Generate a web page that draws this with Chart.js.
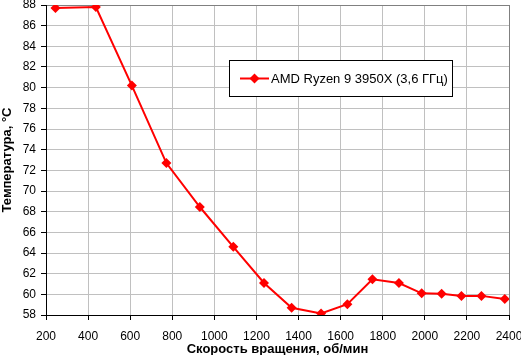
<!DOCTYPE html>
<html><head><meta charset="utf-8">
<script src="https://cdn.jsdelivr.net/npm/chart.js@4"></script>
<style>html,body{margin:0;padding:0;background:#fff}#c{display:block}</style>
</head><body>
<div style="width:521px;height:355px"><canvas id="c" width="521" height="355"></canvas></div>
<script>
const seriesName = 'AMD Ryzen 9 3950X (3,6 ГГц)';
const rpm = [245, 437, 608, 772, 931, 1090, 1236, 1367, 1507, 1632, 1751, 1877, 1985, 2080, 2174, 2269, 2380];
const temp = [87.7, 87.8, 80.2, 72.7, 68.45, 64.6, 61.1, 58.7, 58.15, 59.05, 61.45, 61.1, 60.1, 60.05, 59.85, 59.85, 59.55];
const xTitle = 'Скорость вращения, об/мин';
const yTitle = 'Температура, °C';
const xMin = 200, xMax = 2400, xStep = 200;
const yMin = 58, yMax = 88, yStep = 2;

const FONT = '"Liberation Sans", Arial, sans-serif';

const legendPlugin = {
  id: 'boxLegend',
  afterDraw(chart) {
    const ctx = chart.ctx;
    ctx.save();
    const x = 229.5, y = 60.5, w = 223, h = 36;
    ctx.fillStyle = '#fff';
    ctx.fillRect(x, y, w, h);
    ctx.strokeStyle = '#000';
    ctx.lineWidth = 1;
    ctx.strokeRect(x, y, w, h);
    const cy = y + h / 2;
    ctx.strokeStyle = '#ff0000';
    ctx.lineWidth = 2;
    ctx.beginPath(); ctx.moveTo(240, cy); ctx.lineTo(269, cy); ctx.stroke();
    ctx.fillStyle = '#ff0000';
    const mx = 254.5, r = 5;
    ctx.beginPath(); ctx.moveTo(mx, cy - r); ctx.lineTo(mx + r, cy); ctx.lineTo(mx, cy + r); ctx.lineTo(mx - r, cy); ctx.closePath(); ctx.fill();
    ctx.fillStyle = '#000';
    ctx.font = '13px ' + FONT;
    ctx.textBaseline = 'middle';
    ctx.textAlign = 'left';
    ctx.fillText(chart.data.datasets[0].label, 271, cy + 0.5);
    ctx.restore();
  }
};

new Chart(document.getElementById('c'), {
  type: 'scatter',
  data: {
    datasets: [{
      label: seriesName,
      data: rpm.map((v, i) => ({x: v, y: temp[i]})),
      showLine: true,
      borderColor: '#ff0000',
      backgroundColor: '#ff0000',
      borderWidth: 2,
      pointStyle: 'rectRot',
      pointRadius: 5,
      pointHoverRadius: 5,
      pointBorderWidth: 0,
      tension: 0
    }]
  },
  options: {
    responsive: false,
    animation: false,
    events: [],
    layout: {padding: {left: 0, right: 12, top: 5, bottom: 0}},
    plugins: {legend: {display: false}, tooltip: {enabled: false}},
    scales: {
      x: {
        type: 'linear', min: xMin, max: xMax,
        ticks: {stepSize: xStep, color: '#000', font: {family: FONT, size: 12}, padding: 9, maxRotation: 0, autoSkip: false, callback: v => String(v)},
        grid: {color: c => c.tick && c.tick.value === xMax ? '#808080' : '#c0c0c0', tickColor: '#000', tickLength: 5, lineWidth: 1},
        border: {color: '#000', width: 1},
        title: {display: true, text: xTitle, color: '#000', font: {family: FONT, size: 13, weight: 'bold'}, padding: {top: 0, bottom: -2}},
        afterFit(s) { s.height = 40; s.paddingLeft = 0; s.paddingRight = 0; }
      },
      y: {
        type: 'linear', min: yMin, max: yMax,
        ticks: {stepSize: yStep, color: '#000', font: {family: FONT, size: 12}, padding: 5, autoSkip: false, callback: v => String(v)},
        grid: {color: c => c.tick && c.tick.value === yMax ? '#808080' : '#c0c0c0', tickColor: '#000', tickLength: 5, lineWidth: 1},
        border: {color: '#000', width: 1},
        title: {display: true, text: yTitle, color: '#000', font: {family: FONT, size: 13, weight: 'bold'}, padding: {top: 0, bottom: 2}},
        afterFit(s) { s.width = 46; s.paddingTop = 0; s.paddingBottom = 0; }
      }
    }
  },
  plugins: [legendPlugin]
});
</script>
</body></html>
